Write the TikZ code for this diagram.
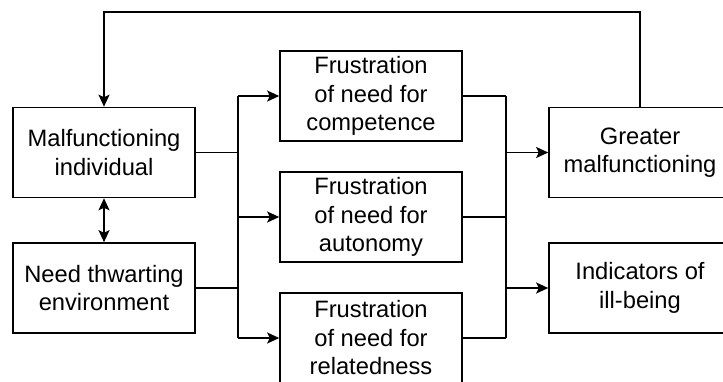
\documentclass[tikz,border=0pt]{standalone}
\usepackage{fontspec}
\setmainfont{Liberation Sans}
\usetikzlibrary{arrows.meta}
\begin{document}
\begin{tikzpicture}[x=1pt,y=-1pt,
  box/.style={draw,line width=1.6pt,rectangle,minimum width=182pt,minimum height=90pt,
    inner sep=0pt,align=center,font=\fontsize{23.7}{28.5}\selectfont},
  wire/.style={line width=1.6pt},
  tip/.style={},
  arr/.style={wire,-{Stealth[length=12pt,width=11pt,inset=2.5pt]}},
  arrboth/.style={wire,{Stealth[length=12pt,width=11pt,inset=2.5pt]}-{Stealth[length=12pt,width=11pt,inset=2.5pt]}}]
\useasboundingbox (0,0) rectangle (723,381);
\fill[white] (0,0) rectangle (723,381);

% left column
\node[box] (mi) at (104,152.5) {Malfunctioning\\individual};
\node[box] (ne) at (104,288) {Need thwarting\\environment};
% middle column
\node[box] (fc) at (371,96) {Frustration\\of need for\\competence};
\node[box] (fa) at (371,217) {Frustration\\of need for\\autonomy};
\node[box] (fr) at (371,338) {Frustration\\of need for\\relatedness};
% right column
\node[box] (gm) at (640,152.5) {Greater\\malfunctioning};
\node[box] (ib) at (640,288) {Indicators of\\ill-being};

% bus positions
\coordinate (lb) at (238,0);
\coordinate (rb) at (506,0);
\coordinate (top) at (0,12);

% individual <-> environment
\draw[arrboth] (mi.south) -- (ne.north);

% left bus into the three frustrations
\draw[wire] (mi.east) -- (mi.east -| lb);
\draw[wire] (ne.east) -- (ne.east -| lb);
\draw[wire] (fc.west -| lb) -- (fr.west -| lb);
\draw[arr] (fc.west -| lb) -- (fc.west);
\draw[arr] (fa.west -| lb) -- (fa.west);
\draw[arr] (fr.west -| lb) -- (fr.west);

% right bus into the outcomes
\draw[wire] (fc.east) -- (fc.east -| rb);
\draw[wire] (fa.east) -- (fa.east -| rb);
\draw[wire] (fr.east) -- (fr.east -| rb);
\draw[wire] (fc.east -| rb) -- (fr.east -| rb);
\draw[arr] (gm.west -| rb) -- (gm.west);
\draw[arr] (ib.west -| rb) -- (ib.west);

% feedback loop
\draw[arr] (gm.north) |- (mi.north |- top) -- (mi.north);
\end{tikzpicture}
\end{document}
